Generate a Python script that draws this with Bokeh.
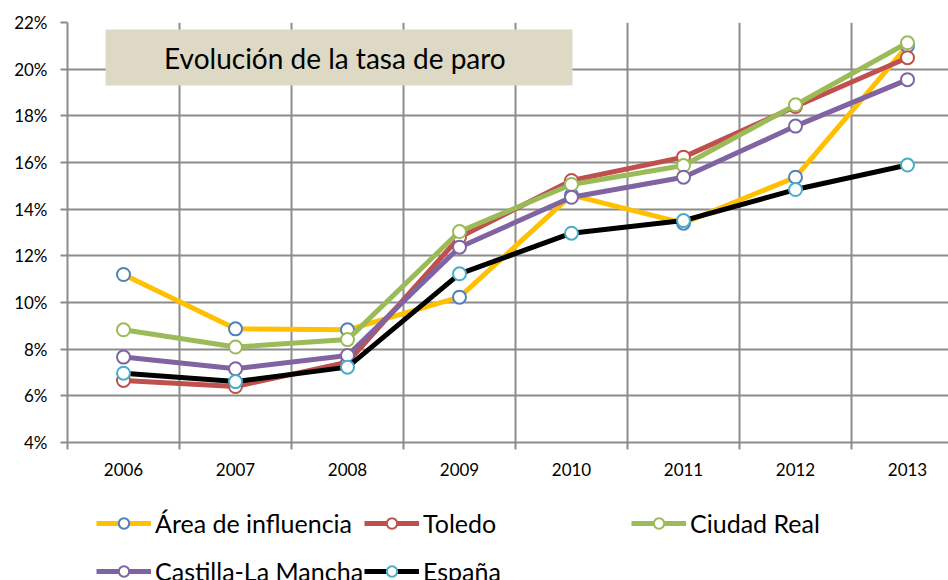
from bokeh.plotting import figure
from bokeh.layouts import column
from bokeh.models import (Range1d, FixedTicker, Legend, LegendItem, BoxAnnotation, Label)
from bokeh.embed import file_html
from bokeh.resources import INLINE

years = ["2006", "2007", "2008", "2009", "2010", "2011", "2012", "2013"]
area = [11.2, 8.87, 8.83, 10.23, 14.6, 13.4, 15.37, 21.0]
toledo = [6.66, 6.40, 7.44, 12.8, 15.23, 16.23, 18.40, 20.49]
ciudad_real = [8.83, 8.09, 8.41, 13.04, 15.06, 15.87, 18.47, 21.13]
castilla = [7.66, 7.16, 7.73, 12.37, 14.51, 15.37, 17.56, 19.55]
espana = [6.97, 6.61, 7.23, 11.23, 12.97, 13.51, 14.84, 15.89]
y_ticks = [4, 6, 8, 10, 12, 14, 16, 18, 20, 22]
y_labels = ["4%", "6%", "8%", "10%", "12%", "14%", "16%", "18%", "20%", "22%"]
title_text = "Evolución de la tasa  de paro"

series = [
    ("Área de influencia", area, "#FFC000", "#4F81BD"),
    ("Toledo", toledo, "#C0504D", "#C0504D"),
    ("Ciudad Real", ciudad_real, "#9BBB59", "#9BBB59"),
    ("Castilla-La Mancha", castilla, "#8064A2", "#8064A2"),
    ("España", espana, "#000000", "#4BACC6"),
]

FONT = "Lato"
GRID = "#8C8C8C"

xs = list(range(len(years)))
W, H1, H2 = 948, 500, 80
p = figure(width=W, height=H1, output_backend="svg", toolbar_location=None,
           x_range=Range1d(-0.5, -0.5 + 881 / 112), y_range=Range1d(4, 22),
           min_border_left=67, min_border_right=0, min_border_top=22, min_border_bottom=58)
p.outline_line_color = None
p.background_fill_color = "white"
p.border_fill_color = "white"

# axes
p.yaxis.ticker = FixedTicker(ticks=y_ticks)
p.yaxis.major_label_overrides = {t: l for t, l in zip(y_ticks, y_labels)}
p.yaxis.major_tick_out = 7
p.yaxis.major_tick_in = 0
p.yaxis.minor_tick_line_color = None
p.yaxis.major_tick_line_color = GRID
p.yaxis.major_tick_line_width = 2
p.yaxis.axis_line_color = GRID
p.yaxis.axis_line_width = 2
p.yaxis.major_label_text_font = FONT
p.yaxis.major_label_text_font_size = "17px"
p.yaxis.major_label_text_color = "black"
p.yaxis.major_label_standoff = 13

bounds = [i - 0.5 for i in range(len(years) + 1)]
p.xaxis.ticker = FixedTicker(ticks=xs, minor_ticks=bounds)
p.xaxis.major_label_overrides = {i: y for i, y in enumerate(years)}
p.xaxis.major_tick_line_color = None
p.xaxis.major_tick_out = 0
p.xaxis.major_tick_in = 0
p.xaxis.minor_tick_out = 7
p.xaxis.minor_tick_in = 0
p.xaxis.minor_tick_line_color = GRID
p.xaxis.minor_tick_line_width = 2
p.xaxis.axis_line_color = GRID
p.xaxis.axis_line_width = 2
p.xaxis.major_label_text_font = FONT
p.xaxis.major_label_text_font_size = "17px"
p.xaxis.major_label_text_color = "black"
p.xaxis.major_label_standoff = 13

p.xgrid.ticker = FixedTicker(ticks=bounds)
p.xgrid.grid_line_color = GRID
p.xgrid.grid_line_width = 2
p.ygrid.ticker = FixedTicker(ticks=y_ticks)
p.ygrid.grid_line_color = GRID
p.ygrid.grid_line_width = 2

# title box
p.add_layout(BoxAnnotation(left=(105 - 123) / 112, right=(572 - 123) / 112,
                           bottom=4 + (442 - 85) / (420 / 18), top=4 + (442 - 29) / (420 / 18),
                           fill_color="#DDD9C4", fill_alpha=1, line_color=None, level="annotation"))
p.add_layout(Label(x=(338 - 123) / 112, y=4 + (442 - 57) / (420 / 18), text=title_text,
                   text_align="center", text_baseline="middle", text_font=FONT,
                   text_font_size="28px", text_color="black"))

for name, vals, lc, mc in series:
    p.line(xs, vals, line_color=lc, line_width=5)
    p.scatter(xs, vals, marker="circle", size=13, fill_color="white",
              line_color=mc, line_width=2)

# legend strip (its renderers hold the same data, which lies outside this strip's range)
q = figure(width=W, height=H2, output_backend="svg", toolbar_location=None,
           x_range=Range1d(0, 1), y_range=Range1d(0, 1), x_axis_type=None, y_axis_type=None,
           min_border=0, min_border_left=0, min_border_right=0, min_border_top=0, min_border_bottom=0)
q.outline_line_color = None
q.grid.visible = False
q.background_fill_color = "white"
q.border_fill_color = "white"

positions = [(29, 42), (297, 42), (564, 42), (29, -6), (297, -6)]
for (name, vals, lc, mc), loc in zip(series, positions):
    l = q.line(xs, vals, line_color=lc, line_width=5)
    s = q.scatter(xs, vals, marker="circle", size=13, fill_color="white",
                  line_color=mc, line_width=2)
    lg = Legend(items=[LegendItem(label=name, renderers=[l, s])], location=loc,
                padding=0, margin=0, spacing=0, border_line_color=None, background_fill_alpha=0,
                glyph_width=55, glyph_height=26, label_height=26, label_standoff=4,
                label_text_font=FONT, label_text_font_size="25px", label_text_color="black")
    q.add_layout(lg, "center")

open("out.html", "w").write(file_html(column(p, q, spacing=0), INLINE))
